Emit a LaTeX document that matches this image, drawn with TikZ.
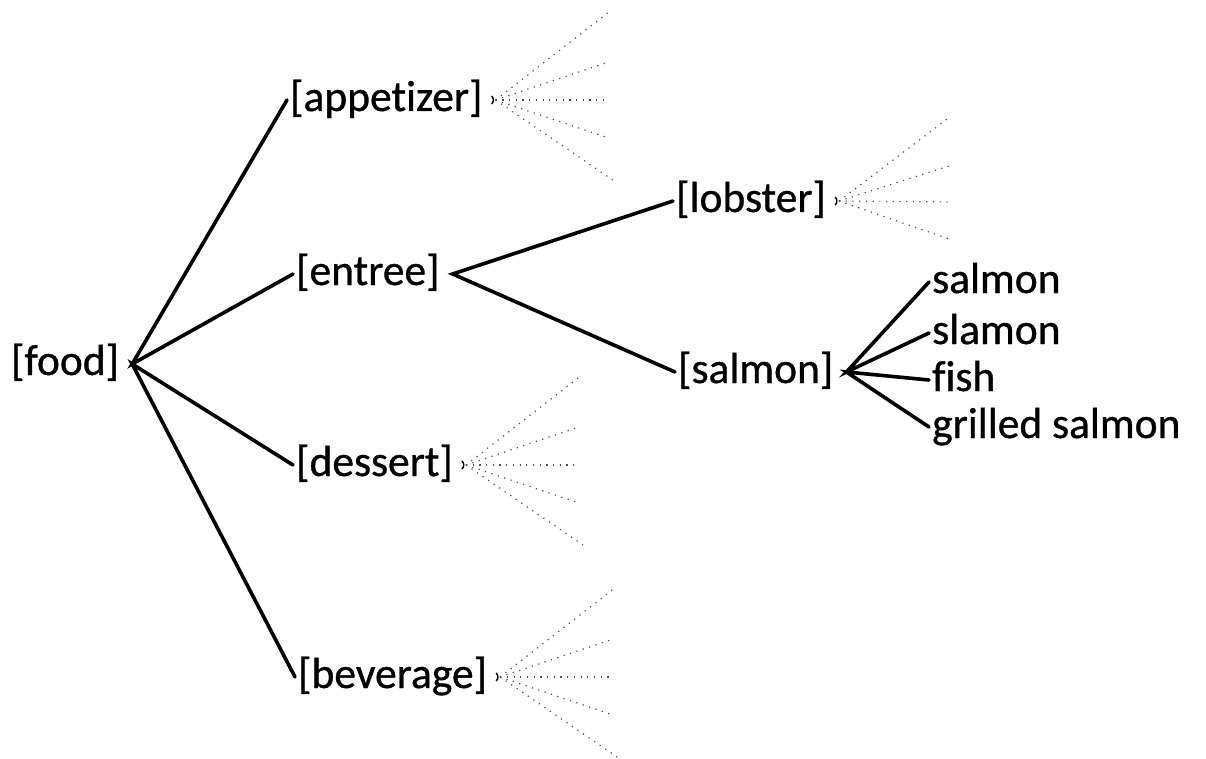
\documentclass[tikz,border=0pt]{standalone}
\usepackage{fontspec}
\setmainfont{Carlito}[Ligatures={NoCommon}, FakeBold=0.8]
\begin{document}
\begin{tikzpicture}[x=1pt,y=-1pt,
  lbl/.style={anchor=base west, inner xsep=3pt, inner ysep=0pt, text height=31pt, text depth=9pt, font=\fontsize{43.5}{50}\selectfont},
  conn/.style={line width=3.6pt, line cap=round},
  fan/.style={line width=1.2pt, black!70, dash pattern=on 1.2pt off 5.5pt},
  tick/.style={line width=1.4pt}]
\useasboundingbox (0,0) rectangle (1206,759);
% labels
\node[lbl] (food)      at (8,375)   {[food]};
\node[lbl] (appetizer) at (287,111) {[appetizer]};
\node[lbl] (entree)    at (293,285) {[entree]};
\node[lbl] (dessert)   at (293,476) {[dessert]};
\node[lbl] (beverage)  at (295,688) {[beverage]};
\node[lbl] (lobster)   at (673,212) {[lobster]};
\node[lbl] (salmon)    at (675,383) {[salmon]};
\node[lbl] (leafA)     at (929,293) {salmon};
\node[lbl] (leafB)     at (929,344) {slamon};
\node[lbl] (leafC)     at (929,391) {fish};
\node[lbl] (leafD)     at (929,438) {grilled salmon};
% junctions
\coordinate (foodJ)   at ([xshift=10pt]food.east);
\coordinate (entreeJ) at ([xshift=10pt]entree.east);
\coordinate (salmonJ) at ([xshift=10pt]salmon.east);
\coordinate (appJ)    at ([xshift=10pt]appetizer.east);
\coordinate (desJ)    at ([xshift=10pt]dessert.east);
\coordinate (bevJ)    at ([xshift=10pt]beverage.east);
\coordinate (lobJ)    at ([xshift=10pt]lobster.east);
% solid connectors
\draw[conn] (appetizer.west) -- (foodJ) -- (entree.west);
\draw[conn] (dessert.west) -- (foodJ) -- (beverage.west);
\draw[conn] (lobster.west) -- (entreeJ) -- (salmon.west);
\draw[conn] (leafA.west) -- (salmonJ) -- (leafB.west);
\draw[conn] (leafC.west) -- (salmonJ) -- (leafD.west);
% dotted fans
\foreach \J in {appJ,desJ,bevJ}{
  \foreach \n/\dx/\dy in {1/112/-87,2/113/-38,3/113/0,4/113/38,5/117/80}{
    \coordinate (\J-f\n) at ([shift={(\dx,\dy)}]\J);
    \draw[fan] (\J) -- (\J-f\n);
  }
  \draw[tick] ([shift={(-4,-4)}]\J) to[bend left=50] ([shift={(-4,4)}]\J);
}
\foreach \n/\dx/\dy in {1/112/-85,2/113/-36,3/113/1,4/113/39}{
  \coordinate (lobJ-f\n) at ([shift={(\dx,\dy)}]lobJ);
  \draw[fan] (lobJ) -- (lobJ-f\n);
}
\draw[tick] ([shift={(-4,-4)}]lobJ) to[bend left=50] ([shift={(-4,4)}]lobJ);
\end{tikzpicture}
\end{document}
